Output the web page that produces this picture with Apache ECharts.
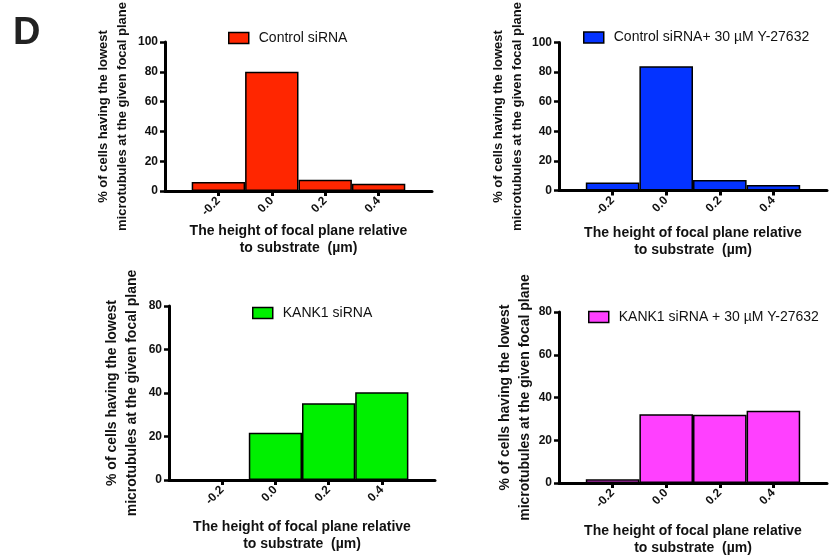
<!DOCTYPE html>
<html>
<head>
<meta charset="utf-8">
<script src="https://cdn.jsdelivr.net/npm/echarts@6/dist/echarts.min.js"></script>
<style>
html,body{margin:0;padding:0;background:#fff;}
#chart{width:829px;height:558px;}
</style>
</head>
<body>
<div id="chart"></div>
<script>
// ---- data ----
const categories = [-0.2, 0.0, 0.2, 0.4];
const xTickLabels = ['-0.2', '0.0', '0.2', '0.4'];
const controlSiRNA = [6.1, 80.0, 7.6, 4.9];
const controlSiRNAY27632 = [5.4, 83.9, 7.1, 3.8];
const kank1SiRNA = [0, 21.7, 35.3, 40.3];
const kank1SiRNAY27632 = [1.7, 32.2, 31.9, 33.8];
const seriesNames = ['Control siRNA', 'Control siRNA+ 30 µM Y-27632', 'KANK1 siRNA', 'KANK1 siRNA + 30 µM Y-27632'];
const yMaxes = [100, 100, 80, 80];
const yTickStep = 20;
const xMin = -0.4, xMax = 0.6, binWidth = 0.2;
const yAxisTitle = '% of cells having the lowest\nmicrotubules at the given focal plane';
const xAxisTitle = 'The height of focal plane relative\nto substrate  (µm)';
const panelLetter = 'D';

// ---- layout / style ----
const FONT = 'Liberation Sans, Arial, Helvetica, sans-serif';
const colors = ['#ff2600', '#0433ff', '#00f000', '#ff40ff'];
const seriesData = [controlSiRNA, controlSiRNAY27632, kank1SiRNA, kank1SiRNAY27632];
const layout = [
  {grid: {left: 165, top: 32, width: 267, height: 159}, legend: {left: 228, top: 31}, yNameGap: 33, yNameSize: 13, xNameGap: 32},
  {grid: {left: 559, top: 32, width: 268, height: 158.5}, legend: {left: 583, top: 30.5}, yNameGap: 32, yNameSize: 13, xNameGap: 34},
  {grid: {left: 169, top: 306, width: 266, height: 174}, legend: {left: 252, top: 306}, yNameGap: 27, yNameSize: 14, xNameGap: 39},
  {grid: {left: 559, top: 312, width: 268, height: 174}, legend: {left: 588, top: 310}, yNameGap: 22, yNameSize: 14, xNameGap: 40}
];

function tickLabel(v) {
  const i = categories.findIndex(c => Math.abs(c - v) < 1e-6);
  return i >= 0 ? xTickLabels[i] : '';
}

const option = {
  animation: false,
  backgroundColor: '#fff',
  graphic: [{
    type: 'text', left: 13, top: 15,
    style: {text: panelLetter, font: 'bold 38px ' + FONT, fill: '#222'}
  }],
  grid: layout.map(l => Object.assign({containLabel: false}, l.grid)),
  legend: layout.map((l, i) => ({
    data: [seriesNames[i]],
    left: l.legend.left, top: l.legend.top,
    padding: 0,
    icon: 'rect',
    itemWidth: 20, itemHeight: 11,
    itemStyle: {color: colors[i], borderColor: '#000', borderWidth: 1.5},
    textStyle: {fontFamily: FONT, fontSize: 14, color: '#111', padding: [0, 0, 0, 5]},
    selectedMode: false
  })),
  xAxis: layout.map((l, i) => ({
    type: 'value', gridIndex: i,
    min: xMin, max: xMax, interval: binWidth,
    axisLine: {onZero: true, lineStyle: {color: '#000', width: 3}},
    axisTick: {show: true, customValues: categories, length: 5, lineStyle: {color: '#000', width: 3}},
    axisLabel: {customValues: categories, formatter: tickLabel, rotate: 45, margin: 8,
      fontFamily: FONT, fontWeight: 'bold', fontSize: 12, color: '#111'},
    splitLine: {show: false},
    name: xAxisTitle, nameLocation: 'middle', nameGap: l.xNameGap,
    nameTextStyle: {fontFamily: FONT, fontWeight: 'bold', fontSize: 14, lineHeight: 17, color: '#111'}
  })),
  yAxis: layout.map((l, i) => ({
    type: 'value', gridIndex: i,
    min: 0, max: yMaxes[i], interval: yTickStep,
    axisLine: {show: true, onZero: false, lineStyle: {color: '#000', width: 3}},
    axisTick: {show: true, length: 5, lineStyle: {color: '#000', width: 2.5}},
    axisLabel: {margin: 7, fontFamily: FONT, fontWeight: 'bold', fontSize: 12, color: '#111'},
    splitLine: {show: false},
    name: yAxisTitle, nameLocation: 'middle', nameGap: l.yNameGap, nameRotate: 90,
    nameTextStyle: {fontFamily: FONT, fontWeight: 'bold', fontSize: l.yNameSize, lineHeight: l.yNameSize + 6, color: '#111'}
  })),
  series: layout.map((l, i) => ({
    type: 'bar', name: seriesNames[i],
    xAxisIndex: i, yAxisIndex: i,
    barWidth: l.grid.width * binWidth / (xMax - xMin),
    data: categories.map((c, j) => [c, seriesData[i][j]]),
    itemStyle: {color: colors[i], borderColor: '#000', borderWidth: 1.5}
  }))
};

const chart = echarts.init(document.getElementById('chart'), null, {renderer: 'canvas'});
chart.setOption(option);
</script>
</body>
</html>
